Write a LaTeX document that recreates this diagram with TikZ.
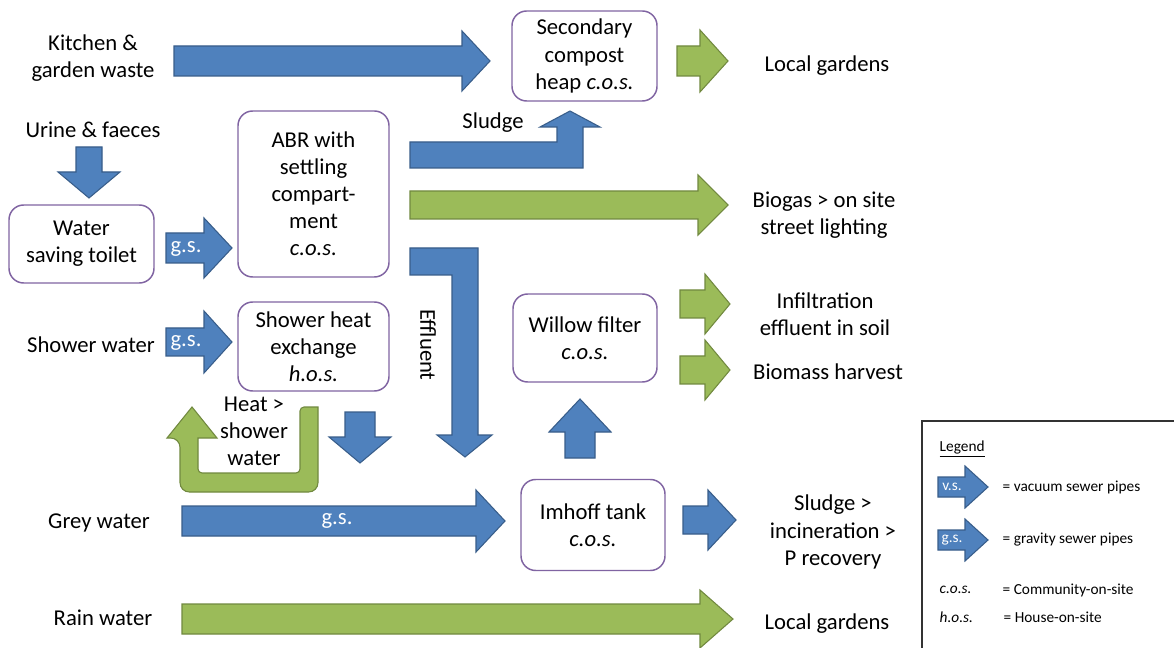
\documentclass[tikz,border=0pt]{standalone}
\usepackage{fontspec}
\setmainfont{Carlito}
\definecolor{bfill}{HTML}{4F81BD}
\definecolor{bline}{HTML}{385D8A}
\definecolor{gfill}{HTML}{9BBB59}
\definecolor{gline}{HTML}{71893F}
\definecolor{boxline}{HTML}{8064A2}
\newcommand\myharrow[7]{% style, x0, xbase, xtip, yc, bodyhalf, headhalf
  \draw[#1] (#2,#5-#6) -- (#3,#5-#6) -- (#3,#5-#7) -- (#4,#5) -- (#3,#5+#7) -- (#3,#5+#6) -- (#2,#5+#6) -- cycle;}
\newcommand\myvarrow[7]{% style, y0, ybase, ytip, xc, bodyhalf, headhalf
  \draw[#1] (#5-#6,#2) -- (#5-#6,#3) -- (#5-#7,#3) -- (#5,#4) -- (#5+#7,#3) -- (#5+#6,#3) -- (#5+#6,#2) -- cycle;}
\newcommand\mainsize{\fontsize{17}{20.3}\selectfont}
\newcommand\legsize{\fontsize{11.5}{14}\selectfont}
\tikzset{
  blue/.style={fill=bfill,draw=bline,line width=0.8pt,line join=miter},
  green/.style={fill=gfill,draw=gline,line width=0.8pt,line join=miter},
  proc/.style={draw=boxline,line width=1.1pt,fill=white,rounded corners=11pt,align=center,inner sep=0pt,font=\mainsize},
  lbl/.style={align=center,font=\mainsize},
  wlbl/.style={text=white,font=\mainsize},
  leg/.style={anchor=west,font=\legsize},
  wleg/.style={text=white,font=\legsize},
}
\begin{document}
\begin{tikzpicture}[x=0.75pt,y=-0.75pt]
\useasboundingbox (0,0) rectangle (1174,648);
\fill[white] (0,0) rectangle (1174,648);
% boxes
\node[proc,minimum width=108.75pt,minimum height=67.5pt] (compost) at (584.5,56) {Secondary\\compost\\heap \textit{c.o.s.}};
\node[proc,minimum width=108.75pt,minimum height=58.5pt] (toilet) at (81.5,244) {Water\\saving toilet};
\node[proc,minimum width=113.25pt,minimum height=124.5pt] (abr) at (313.5,194) {ABR with\\settling\\compart-\\ment\\\textit{c.o.s.}};
\node[proc,minimum width=113.25pt,minimum height=66.75pt] (shower) at (313.5,346.5) {Shower heat\\exchange\\\textit{h.o.s.}};
\node[proc,minimum width=108pt,minimum height=66pt] (willow) at (585,338) {Willow filter\\\textit{c.o.s.}};
\node[proc,minimum width=108pt,minimum height=68.25pt] (imhoff) at (593,525) {Imhoff tank\\\textit{c.o.s.}};
% source texts
\node[lbl] (kitchen) at (93,58) {Kitchen \&\\garden waste};
\node[lbl] (urine) at (93,130) {Urine \& faeces};
\node[lbl] (showerw) at (91,345) {Shower water};
\node[lbl] (grey) at (99,523) {Grey water};
\node[lbl] (rain) at (103,618) {Rain water};
% sink texts
\node[lbl] (gard1) at (827,66) {Local gardens};
\node[lbl] (biogas) at (824,215) {Biogas > on site\\street lighting};
\node[lbl] (infil) at (825,314) {Infiltration\\effluent in soil};
\node[lbl] (biomass) at (828,372) {Biomass harvest};
\node[lbl] (sludgep) at (833,532) {Sludge >\\incineration >\\P recovery};
\node[lbl] (gard2) at (827,624) {Local gardens};
% arrows
\myharrow{blue}{174}{462}{490}{61}{15}{30}
\myharrow{green}{677}{700}{728}{61}{15}{31}
\myvarrow{blue}{147}{172}{198}{89}{13}{31}
\myharrow{blue}{166}{204}{232}{248}{15}{30}
\node[wlbl] (gs1) at (186,249) {g.s.};
\draw[blue] (410,142) -- (557,142) -- (557,127) -- (540,127) -- (570,111) -- (600,127) -- (583,127) -- (583,168) -- (410,168) -- cycle;
\node[lbl] (sludge) at (493,123) {Sludge};
\myharrow{green}{410}{698}{728}{205}{14}{30}
\draw[blue] (410,248) -- (478,248) -- (478,435) -- (492,435) -- (465,457) -- (437,435) -- (452,435) -- (452,275) -- (410,275) -- cycle;
\node[lbl,rotate=-90] (effluent) at (428,345) {Effluent};
\myharrow{green}{680}{705}{730}{304}{14}{30}
\myharrow{green}{680}{705}{730}{370}{14}{30}
\myvarrow{blue}{458}{432}{399}{580}{15}{31}
\myharrow{blue}{166}{204}{232}{342}{14}{31}
\node[wlbl] (gs2) at (186,343) {g.s.};
\draw[green] (318,407) [rounded corners=7] -- (318,492) -- (180,492) -- (180,438) [sharp corners] -- (167,438) -- (192,407) -- (217,438) -- (198,438) [rounded corners=3] -- (198,473) -- (300,473) -- (300,407) [sharp corners] -- cycle;
\node[lbl] (heat) at (254,431) {Heat >\\shower\\water};
\myvarrow{blue}{412}{437}{463}{360}{15}{31}
\myharrow{blue}{182}{476}{505}{521}{15}{31}
\node[wlbl] (gs3) at (337,521) {g.s.};
\myharrow{blue}{683}{708}{736}{520}{14}{30}
\myharrow{green}{182}{700}{733}{619}{15}{29}
% legend
\begin{scope}
\clip (0,0) rectangle (1174,648);
\draw[line width=1.1pt,draw=black!80] (922,421) rectangle (1180,660);
\end{scope}
\node[leg] (legt) at (935,449) {\underline{Legend}};
\myharrow{blue}{938}{965}{988}{487}{10}{21}
\node[wleg] (vs) at (952,487) {v.s.};
\node[leg] (vst) at (998,487) {= vacuum sewer pipes};
\myharrow{blue}{938}{965}{988}{540}{10}{21}
\node[wleg] (gsl) at (952,540) {g.s.};
\node[leg] (gst) at (998,540) {= gravity sewer pipes};
\node[leg] (cos) at (935,590) {\textit{c.o.s.}};
\node[leg] (cost) at (998,590) {= Community-on-site};
\node[leg] (hos) at (935,617) {\textit{h.o.s.}};
\node[leg] (host) at (999,617) {= House-on-site};
\end{tikzpicture}
\end{document}
